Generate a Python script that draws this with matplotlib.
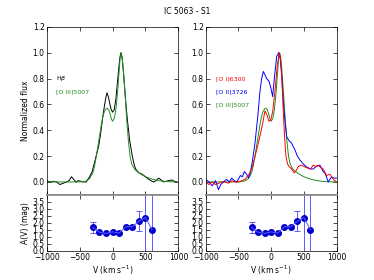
import numpy as np
import matplotlib
matplotlib.use("Agg")
import matplotlib.pyplot as plt

# [O III]5007 profile (used in both panels)
vel_o3 = [-1000, -800, -600, -500, -450, -400, -350, -300, -275, -250, -225, -200, -175, -150,
          -125, -100, -80, -60, -40, -20, 0, 25, 50, 75, 100, 115, 130, 145, 165, 190, 215,
          240, 265, 290, 320, 350, 400, 450, 500, 600, 700, 800, 900, 1000]
flux_o3 = [0.0, 0.0, 0.0, 0.0, 0.003, 0.008, 0.025, 0.07, 0.12, 0.19, 0.27, 0.35, 0.43, 0.5,
           0.545, 0.565, 0.57, 0.56, 0.53, 0.49, 0.47, 0.49, 0.56, 0.69, 0.86, 0.96, 1.0, 0.97,
           0.86, 0.68, 0.48, 0.32, 0.2, 0.14, 0.11, 0.09, 0.07, 0.055, 0.04, 0.022, 0.01, 0.004,
           0.001, 0.0]

# H-beta
vel_hb = [-1000, -950, -900, -850, -800, -750, -700, -660, -625, -590, -560, -520, -480, -450,
          -400, -350, -310, -280, -250, -210, -180, -150, -120, -100, -84, -60, -40, -20, 0,
          25, 50, 70, 90, 110, 126, 145, 170, 200, 225, 260, 300, 330, 351, 400, 450, 500, 550,
          600, 626, 660, 700, 740, 776, 810, 851, 901, 940, 975]
flux_hb = [0.01, 0.0, 0.005, 0.0, -0.02, -0.01, 0.0, 0.01, 0.04, 0.02, 0.0, 0.01, 0.005, 0.0,
           0.0, 0.04, 0.08, 0.14, 0.2, 0.28, 0.38, 0.5, 0.6, 0.66, 0.69, 0.65, 0.6, 0.56, 0.54,
           0.56, 0.64, 0.75, 0.86, 0.96, 1.0, 0.96, 0.82, 0.62, 0.48, 0.32, 0.2, 0.13, 0.1, 0.07,
           0.06, 0.04, 0.02, 0.005, 0.0, 0.01, 0.03, 0.015, 0.0, 0.005, 0.01, 0.015, 0.005, 0.0]

# [O I]6300
vel_o1 = [-1000, -950, -900, -850, -800, -750, -700, -650, -600, -550, -500, -450, -400, -350,
          -298, -250, -197, -160, -130, -95, -65, -34, -5, 25, 58, 93, 124, 145, 165, 185, 205,
          226, 250, 272, 313, 353, 385, 414, 466, 500, 542, 600, 643, 680, 719, 760, 796, 847,
          898, 948, 1000]
flux_o1 = [0.0, -0.02, 0.0, -0.02, -0.01, 0.0, 0.0, -0.01, 0.01, 0.0, 0.0, 0.01, 0.02, 0.05,
           0.1, 0.19, 0.3, 0.38, 0.45, 0.55, 0.52, 0.47, 0.48, 0.55, 0.7, 0.9, 1.0, 0.95, 0.78,
           0.55, 0.35, 0.2, 0.14, 0.12, 0.1, 0.07, 0.09, 0.12, 0.13, 0.12, 0.11, 0.1, 0.13,
           0.12, 0.13, 0.11, 0.1, 0.05, 0.06, 0.02, 0.0]

# [O II]3726
vel_o2 = [-1000, -950, -900, -850, -805, -770, -730, -680, -640, -603, -560, -530, -502, -470,
          -440, -410, -375, -345, -324, -290, -247, -206, -171, -145, -120, -95, -69, -34, -5,
          23, 48, 84, 114, 140, 165, 188, 215, 238, 272, 313, 340, 363, 400, 440, 490, 530, 567,
          600, 640, 690, 745, 796, 830, 872, 923, 960, 1000]
flux_o2 = [0.02, 0.0, -0.03, 0.01, -0.06, -0.02, 0.0, 0.02, 0.0, 0.03, 0.01, 0.0, 0.02, 0.05,
           0.04, 0.08, 0.06, 0.03, 0.06, 0.15, 0.3, 0.5, 0.7, 0.8, 0.855, 0.83, 0.8, 0.78, 0.73,
           0.66, 0.8, 0.97, 1.0, 0.95, 0.8, 0.6, 0.45, 0.35, 0.32, 0.3, 0.27, 0.25, 0.2, 0.17,
           0.14, 0.12, 0.11, 0.1, 0.1, 0.12, 0.13, 0.08, 0.06, 0.0, 0.04, 0.03, 0.03]

# extinction
av_vel = [-300, -200, -100, 0, 100, 200, 300, 400, 500, 600]
av = [1.68, 1.33, 1.25, 1.36, 1.27, 1.72, 1.73, 2.12, 2.38, 1.52]
av_err = [0.4, 0.05, 0.05, 0.05, 0.05, 0.08, 0.12, 0.7, 2.6, 2.8]

plt.rcParams["font.size"] = 5.5
plt.rcParams["lines.linewidth"] = 0.7

fig = plt.figure(figsize=(3.74, 2.8), dpi=100)
ax1 = fig.add_axes([0.125, 0.304, 0.352, 0.6])
ax2 = fig.add_axes([0.55, 0.304, 0.35, 0.6])
ax3 = fig.add_axes([0.125, 0.104, 0.352, 0.2])
ax4 = fig.add_axes([0.55, 0.104, 0.35, 0.2])

green = "#1f8f1f"
ax1.plot(vel_hb, flux_hb, color="k")
ax1.plot(vel_o3, flux_o3, color=green)
ax1.text(-860, 0.8, r"H$\beta$", color="k", fontsize=4.5, va="center")
ax1.text(-860, 0.7, "[O III]5007", color=green, fontsize=4.5, va="center")

ax2.plot(vel_o3, flux_o3, color=green)
ax2.plot(vel_o2, flux_o2, color="b")
ax2.plot(vel_o1, flux_o1, color="r")
ax2.text(-840, 0.8, "[O I]6300", color="r", fontsize=4.5, va="center")
ax2.text(-840, 0.7, "[O II]3726", color="b", fontsize=4.5, va="center")
ax2.text(-840, 0.6, "[O III]5007", color=green, fontsize=4.5, va="center")

for ax in (ax3, ax4):
    ax.errorbar(av_vel, av, yerr=av_err, fmt="-", color="#5a5aff", ecolor="#5a5aff",
                elinewidth=0.7, capsize=2, capthick=0.7)
    ax.plot(av_vel, av, "o", color="#0000cc", markersize=4)
    ax.set_ylim(0, 4)
    ax.set_yticks(np.arange(0, 4, 0.5))
    ax.set_xlabel(r"V (km s$^{-1}$)", labelpad=1)
    ax.spines["top"].set_color("#888888")
    ax.spines["top"].set_linewidth(1.2)

for ax in (ax1, ax2):
    ax.set_ylim(-0.1, 1.2)
    ax.set_yticks(np.arange(0, 1.3, 0.2))
    ax.tick_params(labelbottom=False)
    ax.spines["bottom"].set_color("#888888")
    ax.spines["bottom"].set_linewidth(1.2)

ax1.set_xlim(-1000, 975)
ax3.set_xlim(-1000, 975)
ax2.set_xlim(-1000, 1000)
ax4.set_xlim(-1000, 1000)
for ax in (ax1, ax2, ax3, ax4):
    ax.set_xticks([-1000, -500, 0, 500, 1000])
    ax.tick_params(direction="in", top=True, right=True, length=3, width=0.5, pad=1.5)
    for s in ("left", "right"):
        ax.spines[s].set_linewidth(0.5)
ax1.spines["top"].set_linewidth(0.5)
ax2.spines["top"].set_linewidth(0.5)
ax3.spines["bottom"].set_linewidth(0.5)
ax4.spines["bottom"].set_linewidth(0.5)

ax1.set_ylabel("Normalized flux", labelpad=2)
ax3.set_ylabel("A(V) (mag)", labelpad=2)
fig.suptitle("IC 5063 - S1", y=0.975, fontsize=5.5)

fig.savefig("out.png", dpi=100)
